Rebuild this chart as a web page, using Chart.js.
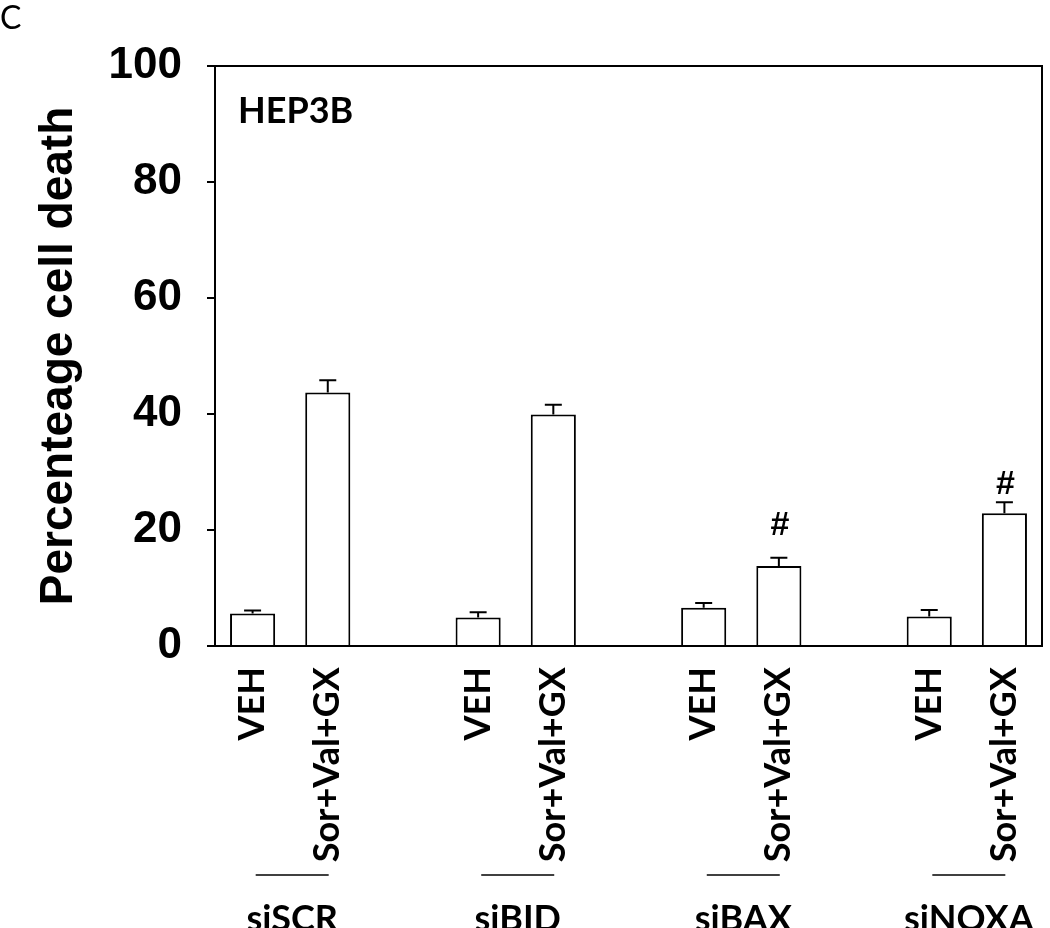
<!DOCTYPE html>
<html>
<head>
<meta charset="utf-8">
<script src="https://cdn.jsdelivr.net/npm/chart.js@4"></script>
<style>
  body { margin: 0; background: #fff; }
  #wrap { width: 1050px; height: 928px; }
</style>
</head>
<body>
<div id="wrap"><canvas id="chart" width="1050" height="928"></canvas></div>
<script>
// --- Data ---
const categories = ['VEH', 'Sor+Val+GX', '', 'VEH', 'Sor+Val+GX', '', 'VEH', 'Sor+Val+GX', '', 'VEH', 'Sor+Val+GX'];
const cellDeath = [5.6, 43.7, null, 4.9, 39.9, null, 6.6, 13.8, null, 5.1, 22.9];
const errors = [0.5, 2.1, null, 0.9, 1.7, null, 0.8, 1.4, null, 1.1, 1.9];
const hashMarks = [null, null, null, null, null, null, null, 20.8, null, null, 27.9];
const groupNames = ['siSCR', 'siBID', 'siBAX', 'siNOXA'];
const groupBars = [[0, 1], [3, 4], [6, 7], [9, 10]];
const yTicks = [0, 20, 40, 60, 80, 100];

const ARIAL = "'Liberation Sans', Arial, sans-serif";
const LATO = "Lato, 'Open Sans', sans-serif";

// frame, error bars, # marks and group labels
const extras = {
    id: 'extras',
    afterDatasetsDraw(chart) {
        const { ctx, chartArea: a, scales: { x, y } } = chart;
        ctx.save();
        ctx.strokeStyle = '#000';
        ctx.lineWidth = 2;

        // top + right frame
        ctx.beginPath();
        ctx.moveTo(a.left - 8, a.top);
        ctx.lineTo(a.right, a.top);
        ctx.lineTo(a.right, a.bottom);
        ctx.stroke();

        // error bars (upper only)
        cellDeath.forEach((v, i) => {
            if (v == null || errors[i] == null) return;
            const cx = x.getPixelForValue(i);
            const y0 = y.getPixelForValue(v);
            const y1 = y.getPixelForValue(v + errors[i]);
            ctx.beginPath();
            ctx.moveTo(cx, y0);
            ctx.lineTo(cx, y1);
            ctx.moveTo(cx - 8.5, y1);
            ctx.lineTo(cx + 8.5, y1);
            ctx.stroke();
        });

        // significance marks
        ctx.fillStyle = '#000';
        ctx.font = 'bold 34px ' + ARIAL;
        ctx.textAlign = 'center';
        ctx.textBaseline = 'middle';
        hashMarks.forEach((v, i) => {
            if (v == null) return;
            ctx.fillText('#', x.getPixelForValue(i) + 1, y.getPixelForValue(v));
        });

        // cell line label
        ctx.textAlign = 'left';
        ctx.textBaseline = 'alphabetic';
        ctx.font = 'bold 36px ' + LATO;
        ctx.fillText('HEP3B', a.left + 23, a.top + 57);

        // group underlines + names
        ctx.lineWidth = 1.5;
        ctx.textAlign = 'center';
        groupBars.forEach((pair, g) => {
            const mid = (x.getPixelForValue(pair[0]) + x.getPixelForValue(pair[1])) / 2 + 2;
            ctx.beginPath();
            ctx.moveTo(mid - 36.5, 875);
            ctx.lineTo(mid + 36.5, 875);
            ctx.stroke();
            ctx.fillText(groupNames[g], mid, 931);
        });

        // panel letter
        ctx.textAlign = 'left';
        ctx.font = '32px ' + LATO;
        ctx.fillText('C', 0, 29);
        ctx.restore();
    }
};

new Chart(document.getElementById('chart'), {
    type: 'bar',
    data: {
        labels: categories,
        datasets: [{
            data: cellDeath,
            backgroundColor: '#fff',
            borderColor: '#000',
            borderWidth: 2,
            borderSkipped: 'bottom',
            categoryPercentage: 1,
            barPercentage: 0.6
        }]
    },
    options: {
        responsive: false,
        animation: false,
        layout: { padding: { top: 66, right: 8, left: 0, bottom: 0 } },
        plugins: { legend: { display: false }, tooltip: { enabled: false } },
        scales: {
            x: {
                grid: { display: false, drawTicks: false },
                border: { display: true, color: '#000', width: 2 },
                ticks: {
                    color: '#000',
                    font: { family: LATO, size: 36, weight: 'bold' },
                    minRotation: 90,
                    maxRotation: 90,
                    autoSkip: false,
                    padding: 21
                },
                afterFit(scale) {
                    scale.height = 282;
                    scale.paddingLeft = 0;
                    scale.paddingRight = 0;
                }
            },
            y: {
                min: 0,
                max: 100,
                afterBuildTicks(scale) { scale.ticks = yTicks.map(v => ({ value: v })); },
                grid: { drawOnChartArea: false, drawTicks: true, tickLength: 8, color: '#000', lineWidth: 2 },
                border: { display: true, color: '#000', width: 2 },
                ticks: {
                    color: '#000',
                    font: { family: ARIAL, size: 44, weight: 'bold' },
                    padding: 25
                },
                title: {
                    display: true,
                    text: 'Percenteage cell death',
                    color: '#000',
                    font: { family: ARIAL, size: 46, weight: 'bold', lineHeight: 1 },
                    padding: { top: 36, bottom: 0 }
                },
                afterFit(scale) { scale.width = 215; }
            }
        }
    },
    plugins: [extras]
});
</script>
</body>
</html>
